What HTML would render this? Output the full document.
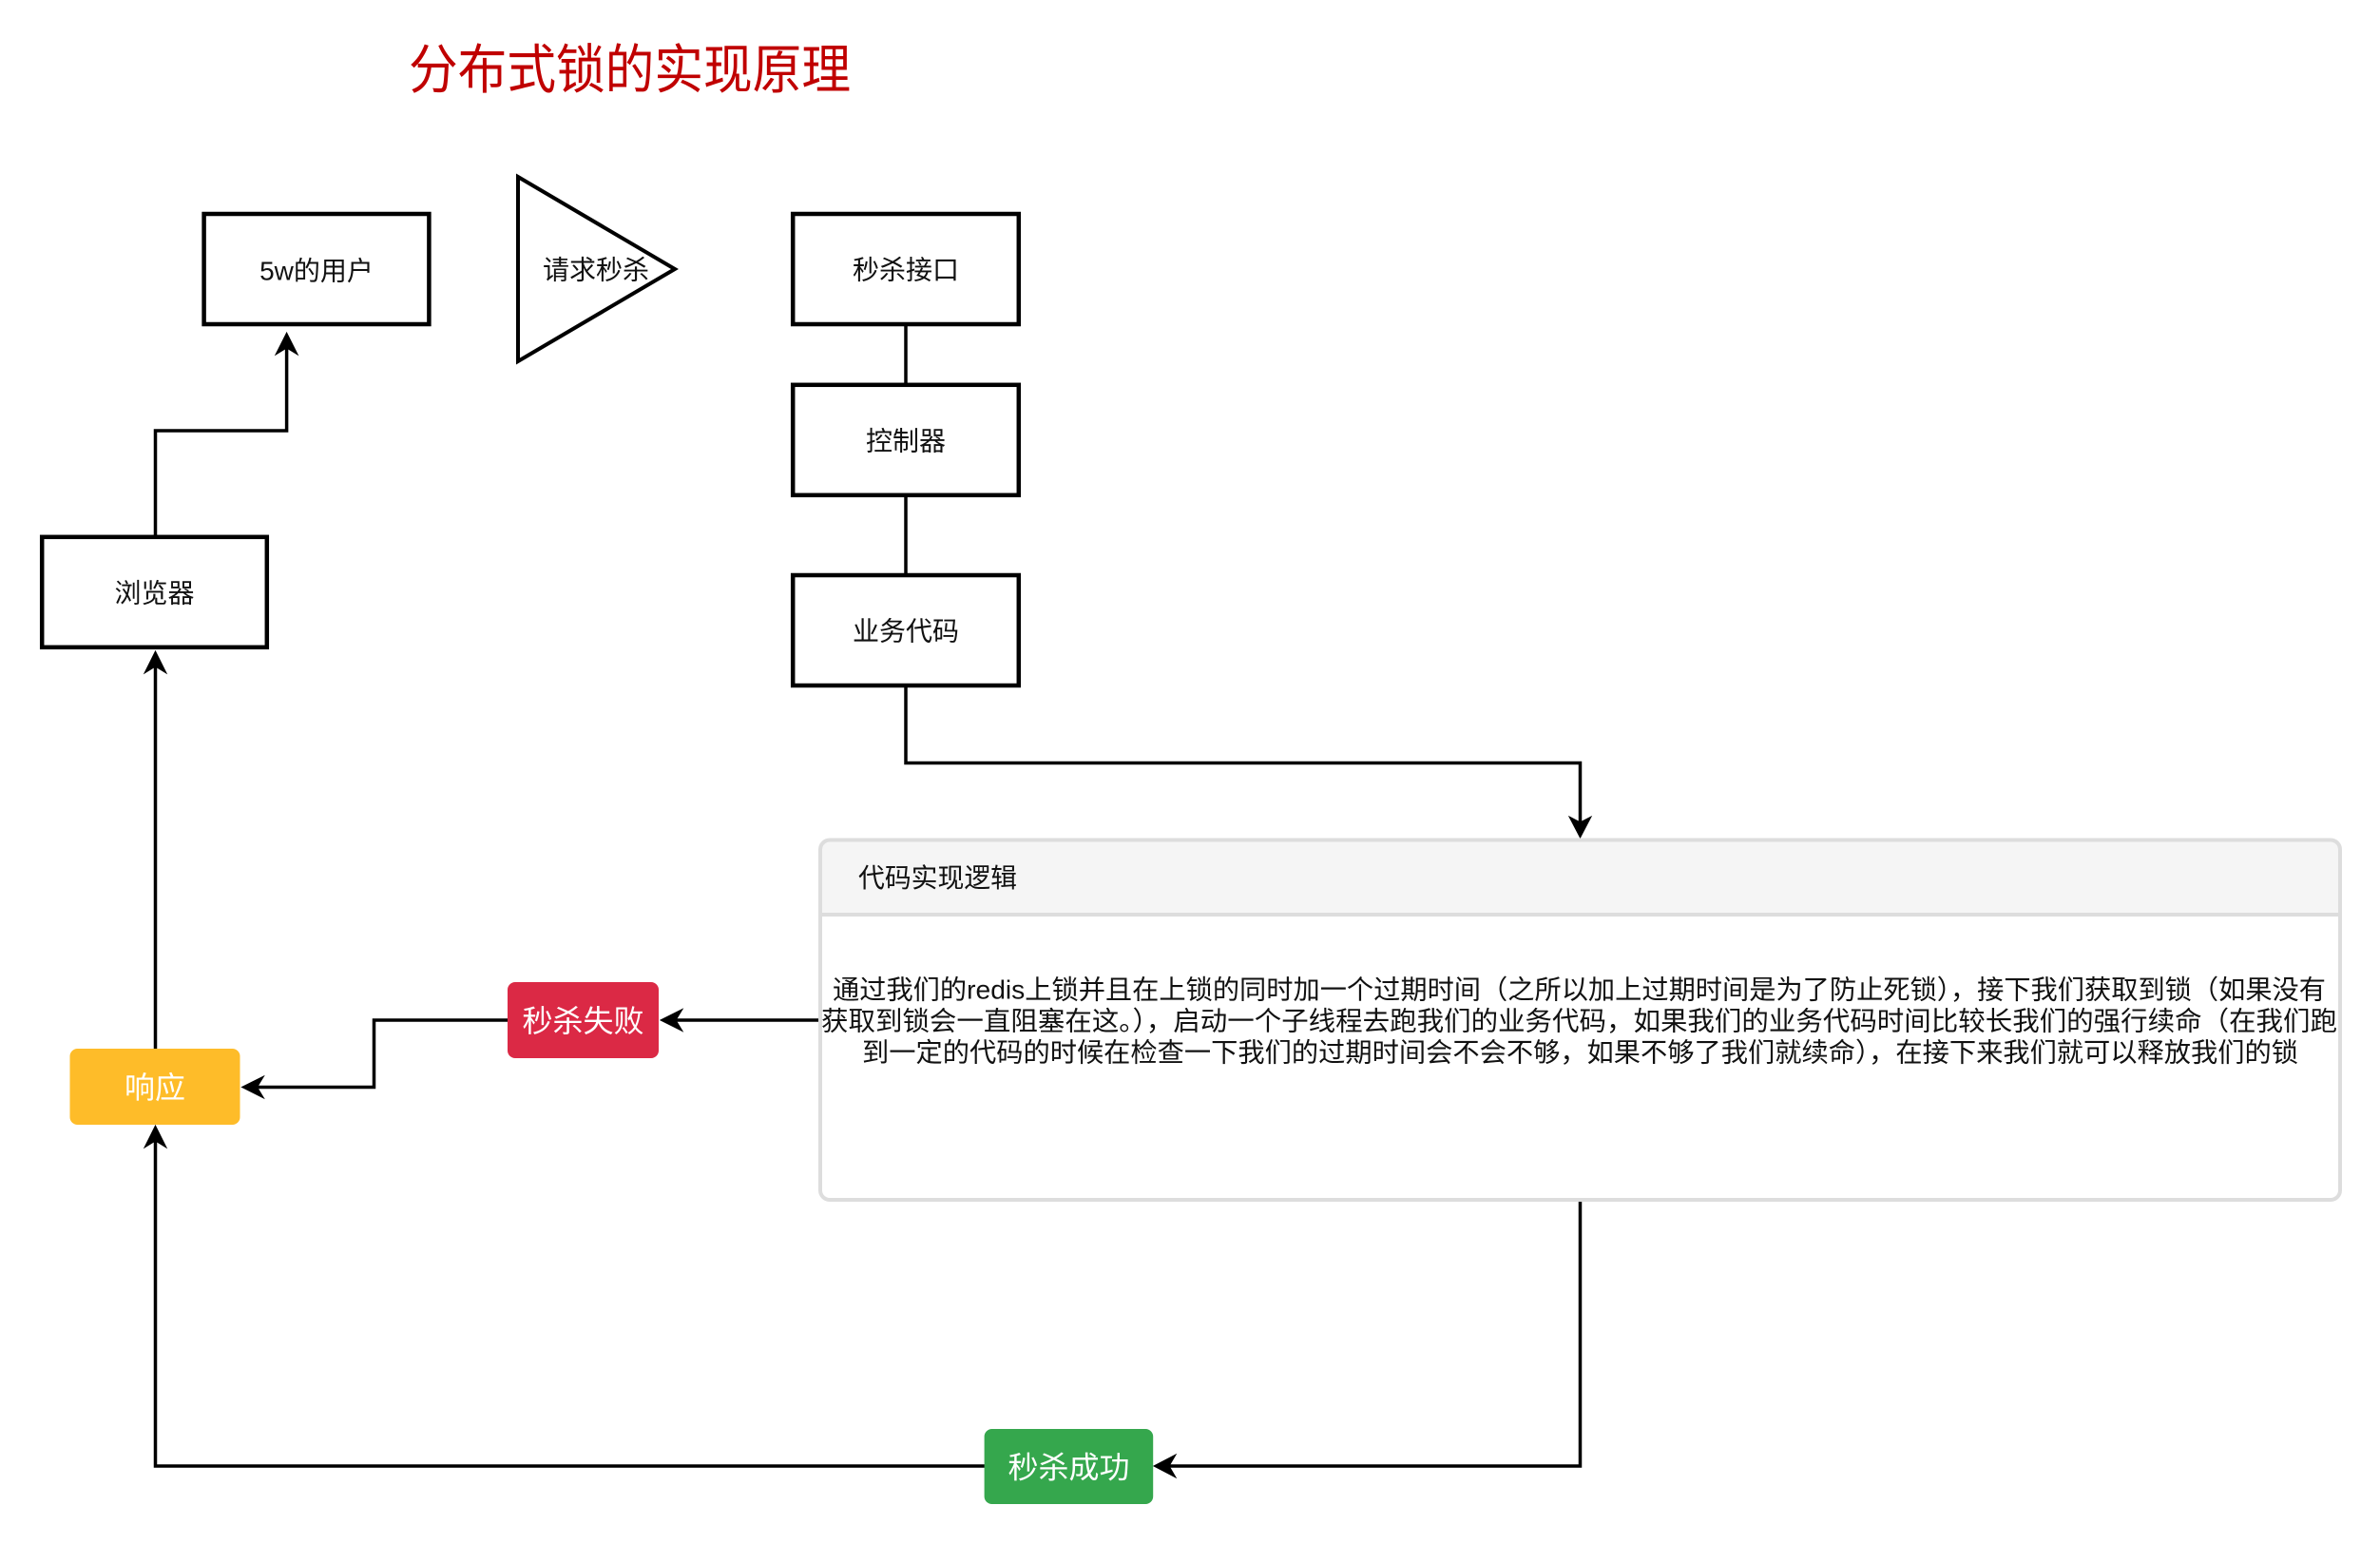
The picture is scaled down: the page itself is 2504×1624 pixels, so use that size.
<!DOCTYPE html>
<html>
<head>
<meta charset="utf-8">
<style>
  html, body { margin: 0; padding: 0; background: #ffffff; }
  body { width: 2504px; height: 1624px; overflow: hidden; }
  svg { display: block; }
  text { font-family: "Liberation Sans", "Noto Sans CJK SC", sans-serif; }
</style>
</head>
<body>
<svg width="2504" height="1624" viewBox="0 0 2504 1624" xmlns="http://www.w3.org/2000/svg">
  <rect x="0" y="0" width="2504" height="1624" fill="#ffffff"/>

  <!-- Title -->
  <text x="430" y="93" font-size="56" fill="#c00000" textLength="465" lengthAdjust="spacingAndGlyphs">分布式锁的实现原理</text>

  <!-- Boxes -->
  <g fill="#ffffff" stroke="#000000" stroke-width="4.5">
    <rect x="214.6" y="225" width="236.8" height="116"/>
    <rect x="44.2" y="564.8" width="236.6" height="116"/>
    <rect x="834.2" y="225" width="237.6" height="116"/>
    <rect x="834.2" y="404.8" width="237.6" height="116"/>
    <rect x="834.2" y="605" width="237.6" height="116"/>
  </g>
  <polygon points="545,186 710,283 545,380" fill="#ffffff" stroke="#000000" stroke-width="4" stroke-linejoin="miter"/>

  <g font-size="28" fill="#111111" text-anchor="middle">
    <text x="333" y="294.6">5w的用户</text>
    <text x="162.5" y="633.6">浏览器</text>
    <text x="627" y="293.6">请求秒杀</text>
    <text x="953" y="293.6">秒杀接口</text>
    <text x="953" y="473.4">控制器</text>
    <text x="953" y="673.6">业务代码</text>
  </g>

  <!-- Connectors -->
  <g stroke="#000000" stroke-width="3.5" fill="none">
    <line x1="953" y1="343" x2="953" y2="403"/>
    <line x1="953" y1="523" x2="953" y2="603"/>
    <path d="M953 723 V802.5 H1662.5 V865"/>
    <path d="M163.5 563 V453 H301.6 V366"/>
    <path d="M163.5 1103 V701"/>
    <path d="M862 1073 H711"/>
    <path d="M534 1073 H393.5 V1143.5 H270.5"/>
    <path d="M1662.5 1264 V1542 H1230"/>
    <path d="M1036 1542 H163.5 V1200"/>
  </g>

  <!-- Arrowheads -->
  <g fill="#000000" stroke="#000000" stroke-width="1" stroke-linejoin="miter">
    <path d="M1662.5 881 L1651 859 L1662.5 865 L1674 859 Z"/>
    <path d="M301.6 350 L290 373 L301.6 366 L313.2 373 Z"/>
    <path d="M163.5 685 L152 708 L163.5 701 L175 708 Z"/>
    <path d="M695 1073 L718 1061.5 L711 1073 L718 1084.5 Z"/>
    <path d="M254.5 1143.5 L277.5 1132 L270.5 1143.5 L277.5 1155 Z"/>
    <path d="M1214 1542 L1237 1530 L1230 1542 L1237 1554 Z"/>
    <path d="M163.5 1184 L152 1207 L163.5 1200 L175 1207 Z"/>
  </g>

  <!-- Container (swimlane style) -->
  <path d="M863 962 V893.5 Q863 883.5 873 883.5 H2452 Q2462 883.5 2462 893.5 V962 Z" fill="#f5f5f5"/>
  <rect x="863" y="883.5" width="1599" height="378.5" rx="10" ry="10" fill="none" stroke="#dddddd" stroke-width="4"/>
  <line x1="863" y1="962" x2="2462" y2="962" stroke="#dddddd" stroke-width="4"/>
  <text x="903" y="933" font-size="28" fill="#111111" textLength="167" lengthAdjust="spacingAndGlyphs">代码实现逻辑</text>

  <g font-size="28" fill="#111111">
    <text x="876" y="1050.5" textLength="1571" lengthAdjust="spacingAndGlyphs">通过我们的redis上锁并且在上锁的同时加一个过期时间（之所以加上过期时间是为了防止死锁），接下我们获取到锁（如果没有</text>
    <text x="864" y="1083.5" textLength="1595" lengthAdjust="spacingAndGlyphs">获取到锁会一直阻塞在这。），启动一个子线程去跑我们的业务代码，如果我们的业务代码时间比较长我们的强行续命（在我们跑</text>
    <text x="907" y="1116.5" textLength="1511" lengthAdjust="spacingAndGlyphs">到一定的代码的时候在检查一下我们的过期时间会不会不够，如果不够了我们就续命），在接下来我们就可以释放我们的锁</text>
  </g>

  <!-- Colored status boxes -->
  <rect x="73.5" y="1103" width="179" height="80" rx="8" ry="8" fill="#febc29"/>
  <rect x="534" y="1033" width="159" height="80" rx="8" ry="8" fill="#db2945"/>
  <rect x="1035.6" y="1503" width="177.6" height="79" rx="8" ry="8" fill="#35a74d"/>
  <g font-size="32" fill="#ffffff" text-anchor="middle">
    <text x="163" y="1155.2">响应</text>
    <text x="613.5" y="1085.2">秒杀失败</text>
    <text x="1124.5" y="1554.7">秒杀成功</text>
  </g>
</svg>
</body>
</html>
